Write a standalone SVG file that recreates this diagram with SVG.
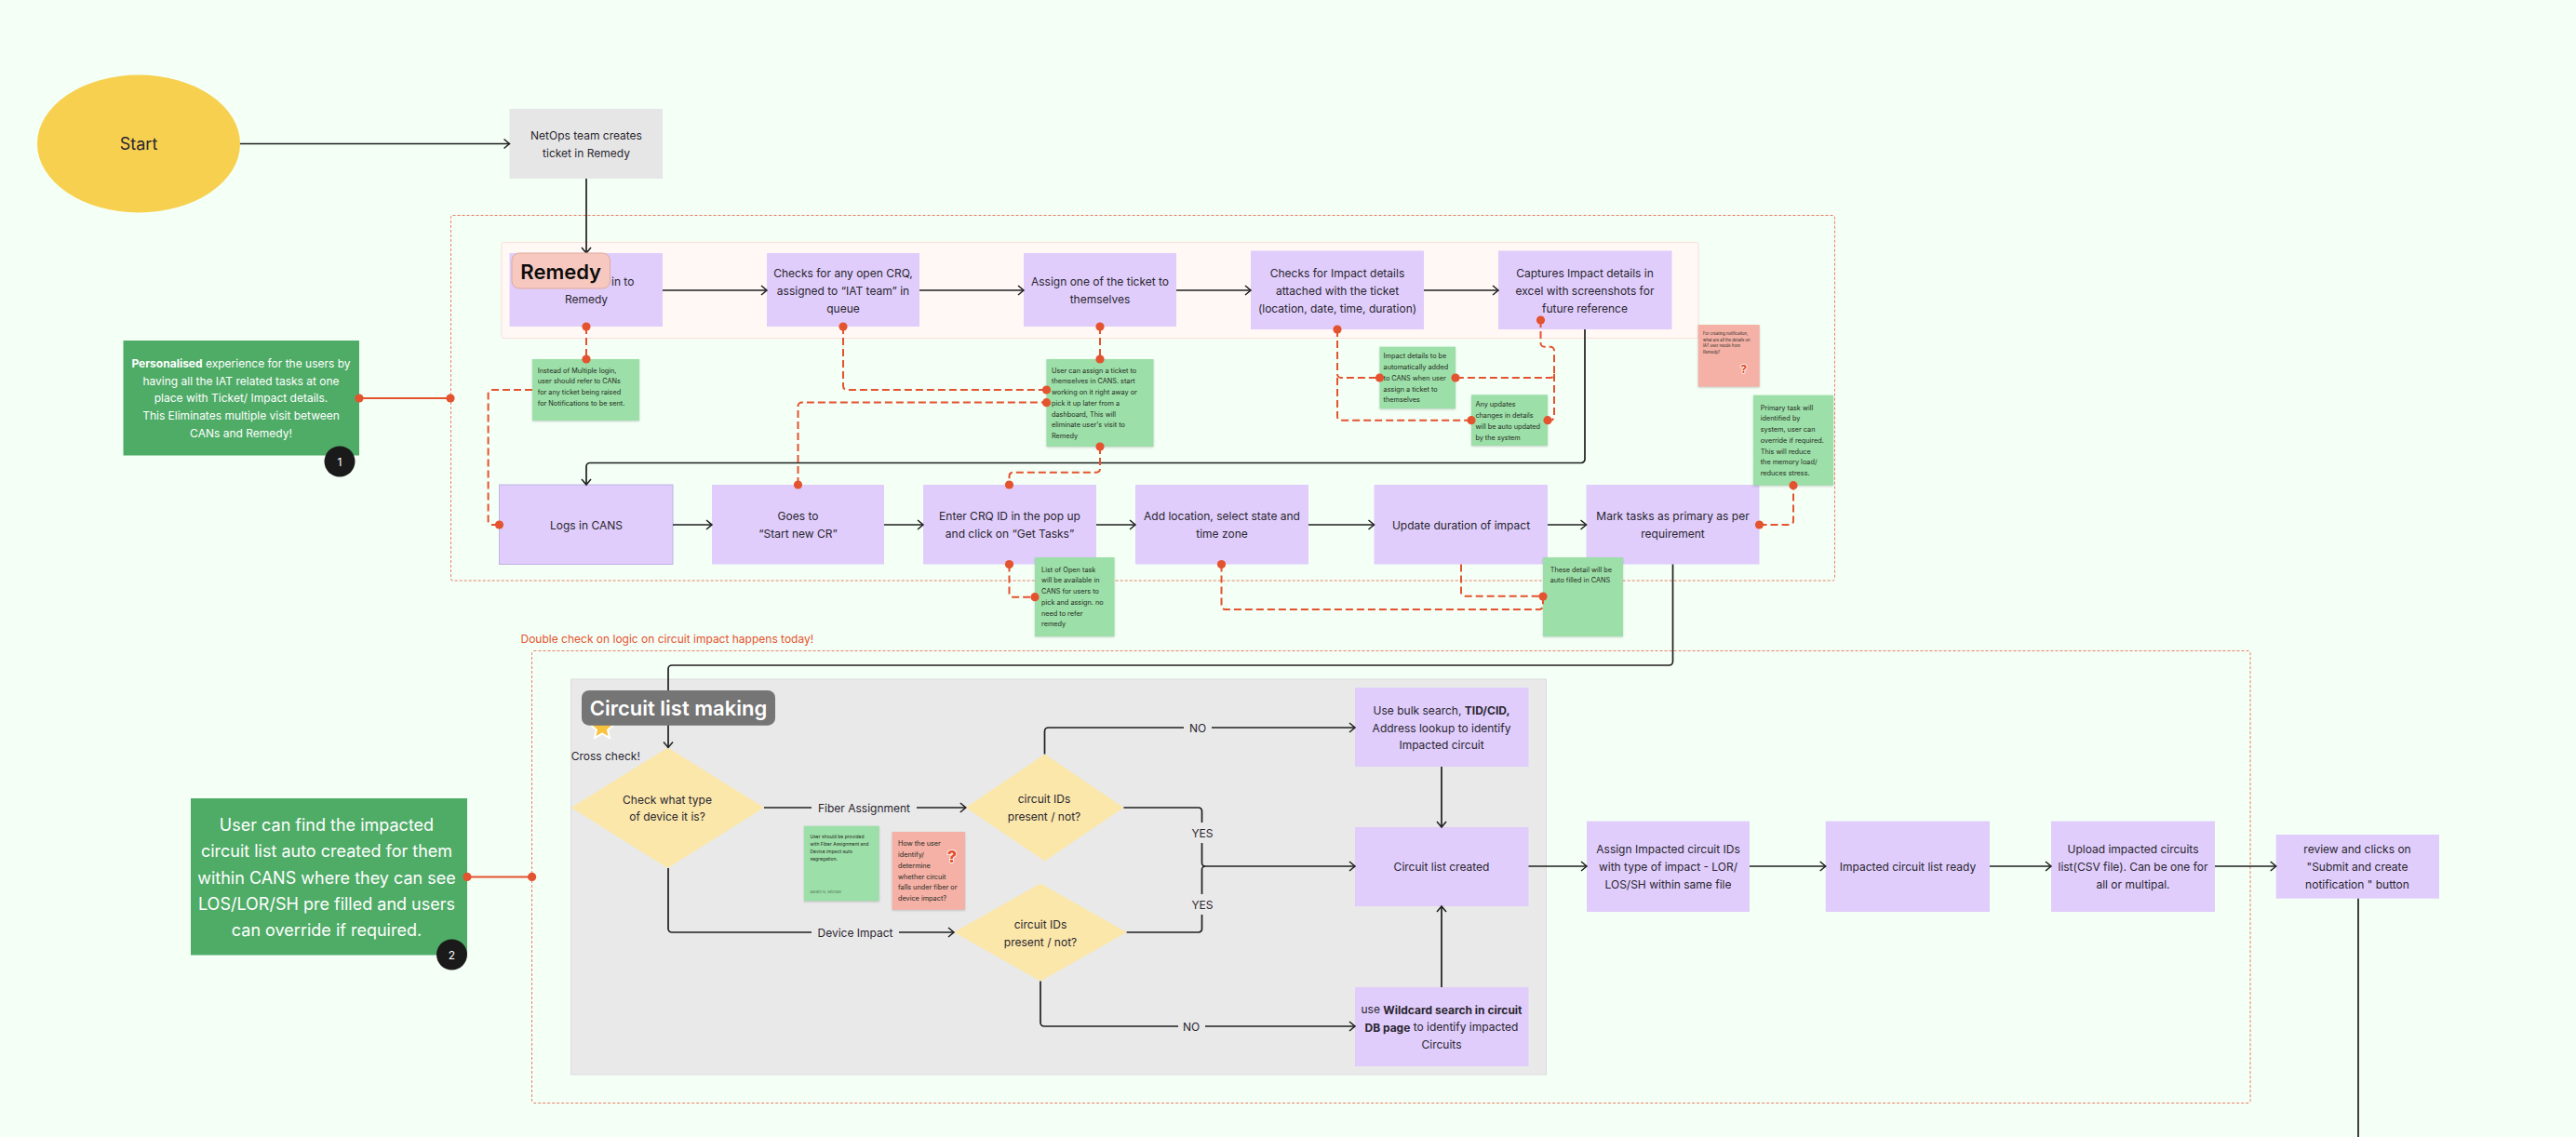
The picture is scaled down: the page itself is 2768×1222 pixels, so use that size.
<svg xmlns="http://www.w3.org/2000/svg" width="2768" height="1222" viewBox="0 0 2768 1222">
<style>
text{font-family:"Inter","Liberation Sans",sans-serif;dominant-baseline:central;fill:#2a2630}
.c{text-anchor:middle;font-size:12px}
.s{font-size:7.3px;fill:#1f2a22}
.w{fill:#fff}
.b{font-weight:700}
.box{fill:#e0cdfb}
.note{fill:#9ddfa8;filter:drop-shadow(0 1px 1px rgba(0,0,0,.18))}
.pink{fill:#f5b1a6;filter:drop-shadow(0 1px 1px rgba(0,0,0,.18))}
.dg{fill:#4fac67}
.dia{fill:#fbe7a9}
.frame{fill:none;stroke:#e9694b;stroke-width:1;stroke-dasharray:3 2;opacity:.85}
.ln{fill:none;stroke:#1f1f1f;stroke-width:1.7;marker-end:url(#ah)}
.ln0{fill:none;stroke:#1f1f1f;stroke-width:1.7}
.da{fill:none;stroke:#e4532f;stroke-width:2;stroke-dasharray:8 4}
.so{fill:none;stroke:#e4532f;stroke-width:2}
.dot{fill:#e4532f}
.q{font-weight:800;fill:#e4532f;stroke:#fff;stroke-width:1.5px;paint-order:stroke;text-anchor:middle}
.badge{fill:#1a1a1a}
</style>
<defs>
<marker id="ah" markerUnits="userSpaceOnUse" markerWidth="12" markerHeight="14" refX="8" refY="7" orient="auto" overflow="visible"><path d="M2 2L8 7L2 12" fill="none" stroke="#1f1f1f" stroke-width="1.5"/></marker>
</defs>
<rect width="2768" height="1222" fill="#f4fff6"/>
<g id="frames">
<rect class="frame" x="484.5" y="231.5" width="1487" height="392.5" rx="2"/>
<rect x="539" y="260.5" width="1286" height="103" rx="2" fill="#fff8f5" stroke="#fadfd9"/>
<rect class="frame" x="571.5" y="699.5" width="1846.5" height="486" rx="2"/>
<rect x="613.5" y="730" width="1048" height="425" fill="#e9e9e9" stroke="#dcdcdc"/>
<text id="frame-note" x="559.5" y="686" font-size="12" style="fill:#e4532f">Double check on logic on circuit impact happens today!</text>
</g>
<g id="start"><ellipse cx="149" cy="154.5" rx="109" ry="74" fill="#f7d04f"/><text class="c" x="149" y="154.5" style="font-size:18px">Start</text></g>
<g id="netops"><rect x="547.5" y="117" width="164.5" height="75" fill="#e6e6e6"/><text class="c" x="630" y="145.3">NetOps team creates</text><text class="c" x="630" y="164.1">ticket in Remedy</text></g>
<g id="logs-remedy"><rect class="box" x="547.5" y="272" width="164.5" height="79"/><text x="657" y="302.5" style="font-size:12px">in to</text><text class="c" x="630" y="321.5">Remedy</text></g>
<g id="check-crq"><rect class="box" x="824" y="272" width="164" height="79"/><text class="c" x="906" y="293">Checks for any open CRQ,</text><text class="c" x="906" y="312">assigned to “IAT team” in</text><text class="c" x="906" y="331">queue</text></g>
<g id="assign-ticket"><rect class="box" x="1100" y="272" width="164" height="79"/><text class="c" x="1182" y="302.7">Assign one of the ticket to</text><text class="c" x="1182" y="321.7">themselves</text></g>
<g id="check-impact"><rect class="box" x="1344" y="269.5" width="186" height="84.5"/><text class="c" x="1437" y="293.3">Checks for Impact details</text><text class="c" x="1437" y="312">attached with the ticket</text><text class="c" x="1437" y="331">(location, date, time, duration)</text></g>
<g id="capture-impact"><rect class="box" x="1610" y="269.5" width="186.5" height="84.5"/><text class="c" x="1703" y="293.3">Captures Impact details in</text><text class="c" x="1703" y="312">excel with screenshots for</text><text class="c" x="1703" y="331">future reference</text></g>
<g id="logs-cans"><rect class="box" x="536.5" y="521" width="186.5" height="85.5" stroke="#b7a8e0" stroke-width=".8"/><text class="c" x="630" y="564">Logs in CANS</text></g>
<g id="goes-to"><rect class="box" x="765" y="521" width="185" height="85.5"/><text class="c" x="857.5" y="554.5">Goes to</text><text class="c" x="857.5" y="573.6">“Start new CR”</text></g>
<g id="enter-crq"><rect class="box" x="992" y="521" width="186" height="85.5"/><text class="c" x="1085" y="554.7">Enter CRQ ID in the pop up</text><text class="c" x="1085" y="573.7">and click on “Get Tasks”</text></g>
<g id="add-location"><rect class="box" x="1220" y="521" width="186" height="85.5"/><text class="c" x="1313" y="554.7">Add location, select state and</text><text class="c" x="1313" y="573.7">time zone</text></g>
<g id="update-duration"><rect class="box" x="1476.5" y="521" width="186.5" height="85.5"/><text class="c" x="1570" y="564">Update duration of impact</text></g>
<g id="mark-primary"><rect class="box" x="1704.5" y="521" width="186" height="85.5"/><text class="c" x="1797.5" y="554.7">Mark tasks as primary as per</text><text class="c" x="1797.5" y="573.7">requirement</text></g>
<g id="note-login"><rect class="note" x="572" y="386" width="115" height="66"/><text class="s" x="577.7" y="398">Instead of Multiple login,</text><text class="s" x="577.7" y="409.7">user should refer to CANs</text><text class="s" x="577.7" y="421.4">for any ticket being raised</text><text class="s" x="577.7" y="433.1">for Notifications to be sent.</text></g>
<g id="note-assign"><rect class="note" x="1124.5" y="386" width="115" height="94"/><text class="s" x="1130" y="398">User can assign a ticket to</text><text class="s" x="1130" y="409.8">themselves in CANS. start</text><text class="s" x="1130" y="421.5">working on it right away or</text><text class="s" x="1130" y="433.3">pick it up later from a</text><text class="s" x="1130" y="445">dashboard, This will</text><text class="s" x="1130" y="456.8">eliminate user's visit to</text><text class="s" x="1130" y="468.5">Remedy</text></g>
<g id="note-impact"><rect class="note" x="1482.5" y="372.7" width="81.5" height="66.5"/><text class="s" x="1486.6" y="382.7">Impact details to be</text><text class="s" x="1486.6" y="394.5">automatically added</text><text class="s" x="1486.6" y="406.2">to CANS when user</text><text class="s" x="1486.6" y="418">assign a ticket to</text><text class="s" x="1486.6" y="429.7">themselves</text></g>
<g id="note-updates"><rect class="note" x="1581" y="424.3" width="82" height="54.7"/><text class="s" x="1585.4" y="434.7">Any updates</text><text class="s" x="1585.4" y="446.4">changes in details</text><text class="s" x="1585.4" y="458.2">will be auto updated</text><text class="s" x="1585.4" y="470">by the system</text></g>
<g id="note-question"><rect class="pink" x="1824.7" y="349" width="66" height="66.7"/><text class="s" x="1830" y="358.3" style="font-size:4.2px">For creating notification,</text><text class="s" x="1830" y="365" style="font-size:4.2px">what are all the details on</text><text class="s" x="1830" y="371.7" style="font-size:4.2px">IAT user needs from</text><text class="s" x="1830" y="378.3" style="font-size:4.2px">Remedy?</text><text class="q" x="1873.7" y="396" font-size="12">?</text></g>
<g id="note-primary"><rect class="note" x="1884" y="424.7" width="86" height="97"/><text class="s" x="1891.7" y="438">Primary task will</text><text class="s" x="1891.7" y="449.8">identified by</text><text class="s" x="1891.7" y="461.5">system, user can</text><text class="s" x="1891.7" y="473.3">override if required.</text><text class="s" x="1891.7" y="485">This will  reduce</text><text class="s" x="1891.7" y="496.8">the memory load/</text><text class="s" x="1891.7" y="508.5">reduces stress.</text></g>
<g id="note-autofill"><rect class="note" x="1658" y="599" width="86" height="85"/><text class="s" x="1665.7" y="612">These detail will be</text><text class="s" x="1665.7" y="623.8">auto filled in CANS</text></g>
<g id="note-open-task"><rect class="note" x="1112" y="599" width="85.5" height="85"/><text class="s" x="1119" y="612">List of Open task</text><text class="s" x="1119" y="623.8">will be available in</text><text class="s" x="1119" y="635.5">CANS for users to</text><text class="s" x="1119" y="647.3">pick and assign. no</text><text class="s" x="1119" y="659">need to refer</text><text class="s" x="1119" y="670.8">remedy</text></g>
<g id="callout-1"><rect class="dg" x="132.5" y="366" width="253.5" height="123.5"/><text class="c w" x="259" y="390.3"><tspan class="b w">Personalised</tspan> experience for the users by</text><text class="c w" x="259" y="409">having all the IAT related tasks at one</text><text class="c w" x="259" y="427.8">place with Ticket/ Impact details.</text><text class="c w" x="259" y="446.8">This Eliminates multiple visit between</text><text class="c w" x="259" y="465.6">CANs and Remedy!</text></g>
<g id="callout-2"><rect class="dg" x="205" y="858" width="297" height="168.5"/><text class="c w" x="351" y="886.5" style="font-size:18px">User can find the impacted</text><text class="c w" x="351" y="914.6" style="font-size:18px">circuit list auto created for them</text><text class="c w" x="351" y="943" style="font-size:18px">within CANS where they can see</text><text class="c w" x="351" y="971" style="font-size:18px">LOS/LOR/SH pre filled and users</text><text class="c w" x="351" y="999.5" style="font-size:18px">can override if required.</text></g>
<g id="decision-device"><polygon class="dia" points="717.5,803.4 821,868 717.5,933 613.7,868"/><text class="c" x="717" y="859">Check what type</text><text class="c" x="717" y="877.6">of device it is?</text></g>
<g id="decision-fiber"><polygon class="dia" points="1122.5,810.5 1207.4,868 1122.5,925.6 1037.8,868"/><text class="c" x="1122" y="858.6">circuit IDs</text><text class="c" x="1122" y="877.6">present / not?</text></g>
<g id="decision-impact"><polygon class="dia" points="1118,949.6 1210.6,1002 1118,1054.6 1025,1002"/><text class="c" x="1118" y="993">circuit IDs</text><text class="c" x="1118" y="1012">present / not?</text></g>
<g id="note-fiber"><rect class="note" x="864" y="887.7" width="80.7" height="80.6"/><text class="s" x="870.5" y="898.5" style="font-size:5px">User should be provided</text><text class="s" x="870.5" y="906.8" style="font-size:5px">with Fiber Assignment and</text><text class="s" x="870.5" y="915" style="font-size:5px">Device impact auto</text><text class="s" x="870.5" y="923" style="font-size:5px">segregation.</text><text class="s" x="870.5" y="958.5" style="font-size:4px;fill:#4d7a58">Barath N, Michael</text></g>
<g id="note-identify"><rect class="pink" x="958.7" y="894" width="78.3" height="83.7"/><text class="s" x="965" y="906.7">How the user</text><text class="s" x="965" y="918.4">identify/</text><text class="s" x="965" y="930.3">determine</text><text class="s" x="965" y="942">whether circuit</text><text class="s" x="965" y="953.8">falls under fiber or</text><text class="s" x="965" y="965.5">device impact?</text><text class="q" x="1023" y="920" font-size="18">?</text></g>
<g id="bulk-search"><rect class="box" x="1456" y="739" width="186.5" height="85"/><text class="c" x="1549" y="763.2">Use bulk search, <tspan class="b">TID/CID,</tspan></text><text class="c" x="1549" y="782">Address lookup to identify</text><text class="c" x="1549" y="800.8">Impacted circuit</text></g>
<g id="circuit-list"><rect class="box" x="1456" y="889" width="186.5" height="85"/><text class="c" x="1549" y="931.5">Circuit list created</text></g>
<g id="wildcard"><rect class="box" x="1456" y="1061" width="186.5" height="85"/><text class="c" x="1549" y="1084.7">use <tspan class="b">Wildcard search in circuit</tspan></text><text class="c" x="1549" y="1103.5"><tspan class="b">DB page</tspan> to identify impacted</text><text class="c" x="1549" y="1122.3">Circuits</text></g>
<g id="assign-impacted"><rect class="box" x="1705" y="882.6" width="175" height="97.4"/><text class="c" x="1792.5" y="912.7">Assign Impacted circuit IDs</text><text class="c" x="1792.5" y="931.5">with type of impact - LOR/</text><text class="c" x="1792.5" y="950.3">LOS/SH within same file</text></g>
<g id="list-ready"><rect class="box" x="1961.7" y="882.6" width="176.3" height="97.4"/><text class="c" x="2050" y="931.5">Impacted circuit list ready</text></g>
<g id="upload"><rect class="box" x="2204" y="882.6" width="176" height="97.4"/><text class="c" x="2292" y="912.7">Upload impacted circuits</text><text class="c" x="2292" y="931.5">list(CSV file). Can be one for</text><text class="c" x="2292" y="950.3">all or multipal.</text></g>
<g id="review"><rect class="box" x="2445.7" y="897" width="175.3" height="68.7"/><text class="c" x="2533" y="912.7">review and clicks on</text><text class="c" x="2533" y="931.5">"Submit and create</text><text class="c" x="2533" y="950.3">notification " button</text></g>
<g id="connectors">
<path class="ln" d="M258 154.5H547.5"/>
<path class="ln" d="M630 192V272"/>
<path class="ln" d="M712 312H824"/><path class="ln" d="M988 312H1100"/><path class="ln" d="M1264 312H1344"/><path class="ln" d="M1530 312H1610"/>
<path class="ln" d="M1703 354V493a4 4 0 0 1-4 4.5H634a4 4 0 0 0-4 4V521"/>
<path class="ln" d="M723 564H765"/><path class="ln" d="M950 564H992"/><path class="ln" d="M1178 564H1220"/><path class="ln" d="M1406 564H1476.5"/><path class="ln" d="M1663 564H1704.5"/>
<path class="ln" d="M1797.5 606.5V711a4 4 0 0 1-4 4H722a4 4 0 0 0-4 4V803.4"/>
<path class="ln0" d="M821 868H872"/><path class="ln" d="M985 868H1037.8"/>
<text class="c" x="928.5" y="868">Fiber Assignment</text>
<path class="ln0" d="M718 933V998a4 4 0 0 0 4 4H872"/><path class="ln" d="M966 1002H1025"/>
<text class="c" x="919" y="1002">Device Impact</text>
<path class="ln0" d="M1122.5 810.5V786a4 4 0 0 1 4-4H1272"/><path class="ln" d="M1302 782H1456"/>
<text class="c" x="1287" y="782">NO</text>
<path class="ln0" d="M1207.4 868H1288a3.5 3.5 0 0 1 3.5 3.5V884"/><path class="ln0" d="M1291.5 906V927.5a3.5 3.5 0 0 0 3.5 3.5"/>
<text class="c" x="1292" y="895">YES</text>
<path class="ln0" d="M1210.6 1002H1288a3.5 3.5 0 0 0 3.5-3.5V983"/><path class="ln0" d="M1291.5 961V934.5a3.5 3.5 0 0 1 3.5-3.5"/>
<text class="c" x="1292" y="972">YES</text>
<path class="ln" d="M1295 931H1456"/>
<path class="ln0" d="M1118 1054.6V1099a4 4 0 0 0 4 4H1266"/><path class="ln" d="M1295 1103H1456"/>
<text class="c" x="1280" y="1103">NO</text>
<path class="ln" d="M1549 824V889"/><path class="ln" d="M1549 1061V974"/>
<path class="ln" d="M1642.5 931H1705"/><path class="ln" d="M1880 931H1961.7"/><path class="ln" d="M2138 931H2204"/><path class="ln" d="M2380 931H2445.7"/>
<path class="ln0" d="M2534 965.7V1222"/>
<path class="da" d="M630 351V386"/>
<path class="da" d="M572 419H528.6a4 4 0 0 0-4 4V560a4 4 0 0 0 4 4H536.5"/>
<path class="da" d="M906 351V415a4 4 0 0 0 4 4H1124.5"/>
<path class="da" d="M857.5 521V436.5a4 4 0 0 1 4-4H1124.5"/>
<path class="da" d="M1182 351V386"/>
<path class="da" d="M1182 480V503.7a4 4 0 0 1-4 4H1088.5a4 4 0 0 0-4 4V521"/>
<path class="da" d="M1437 354V402a4 4 0 0 0 4 4H1482.5"/>
<path class="da" d="M1437 406V447.7a4 4 0 0 0 4 4H1581"/>
<path class="da" d="M1655.5 344V368.7a4 4 0 0 0 4 4H1666a4 4 0 0 1 4 4V402a4 4 0 0 1-4 4H1564"/>
<path class="da" d="M1670 402V447.7a4 4 0 0 1-4 4H1663"/>
<path class="da" d="M1084.5 606.5V637.7a4 4 0 0 0 4 4H1112"/>
<path class="da" d="M1312.5 606.5V651a4 4 0 0 0 4 4H1654a4 4 0 0 0 4-4V641"/>
<path class="da" d="M1570 606.5V636.7a4 4 0 0 0 4 4H1658"/>
<path class="da" d="M1890.5 564H1923a4 4 0 0 0 4-4V521.7"/>
<path class="so" d="M386 428H484"/><path class="so" d="M502 942.4H571.6"/>
<g class="dot">
<circle cx="630" cy="351" r="4.6"/><circle cx="630" cy="386" r="4.6"/><circle cx="536.5" cy="564" r="4.6"/><circle cx="906" cy="351" r="4.6"/><circle cx="857.5" cy="521" r="4.6"/><circle cx="1124.5" cy="419" r="4.6"/><circle cx="1124.5" cy="432.7" r="4.6"/><circle cx="1182" cy="351" r="4.6"/><circle cx="1182" cy="386" r="4.6"/><circle cx="1182" cy="480" r="4.6"/><circle cx="1084.5" cy="521" r="4.6"/><circle cx="1437" cy="354" r="4.6"/><circle cx="1482.5" cy="406" r="4.6"/><circle cx="1581" cy="451.7" r="4.6"/><circle cx="1655.5" cy="344" r="4.6"/><circle cx="1564" cy="406" r="4.6"/><circle cx="1663" cy="451.7" r="4.6"/><circle cx="1084.5" cy="606.5" r="4.6"/><circle cx="1112" cy="641.7" r="4.6"/><circle cx="1312.5" cy="606.5" r="4.6"/><circle cx="1658" cy="641" r="4.6"/><circle cx="1890.5" cy="564" r="4.6"/><circle cx="1927" cy="521.7" r="4.6"/><circle cx="386" cy="428" r="4.6"/><circle cx="484" cy="428" r="4.6"/><circle cx="502" cy="942.4" r="4.6"/><circle cx="571.6" cy="942.4" r="4.6"/>
</g>
</g>
<g id="label-remedy"><rect x="550" y="272" width="105.5" height="38" rx="8" fill="#f6c8c0" stroke="#dfaaa0"/><text x="602.7" y="291.5" text-anchor="middle" font-size="22" font-weight="600" style="fill:#0d0d0d">Remedy</text></g>
<g id="label-circuit"><polygon points="647,769 650.8,777.5 660,778.5 653,784.5 655,793 647,788.5 639,793 641,784.5 634,778.5 643.2,777.5" fill="#f9c23c" stroke="#fff" stroke-width="2"/><rect x="625" y="742" width="208" height="37.7" rx="8" fill="#757575"/><text x="729" y="761" text-anchor="middle" font-size="22" font-weight="600" style="fill:#fff">Circuit list making</text><text x="613.7" y="812.7" font-size="12">Cross check!</text></g>
<g id="badge-1"><circle class="badge" cx="365" cy="496" r="16.5"/><text class="c w" x="365" y="496" style="font-size:12px">1</text></g>
<g id="badge-2"><circle class="badge" cx="485.5" cy="1026" r="16.5"/><text class="c w" x="485.5" y="1026" style="font-size:12px">2</text></g>
</svg>
